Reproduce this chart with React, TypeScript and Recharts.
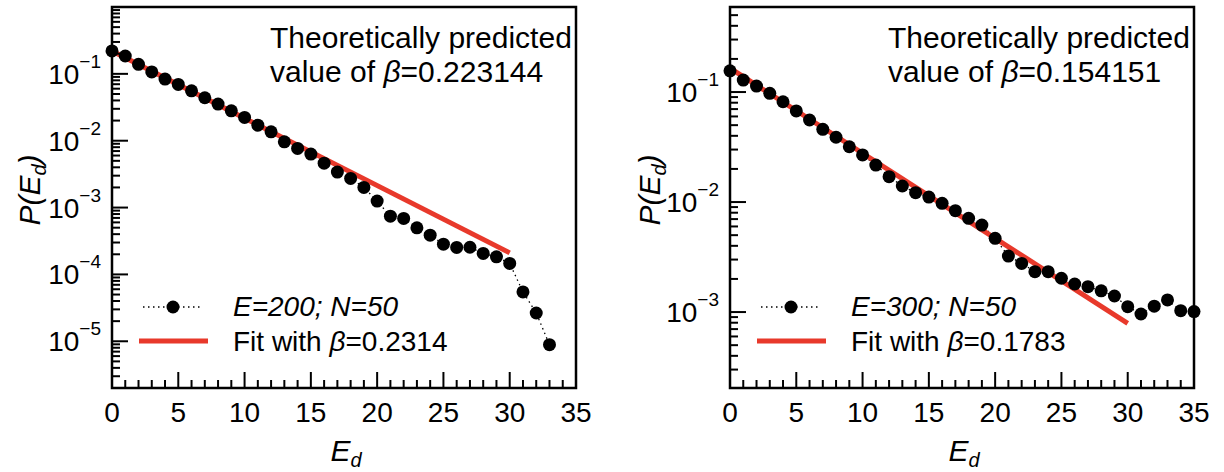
import React from 'react';
import { ComposedChart, Line, XAxis, YAxis, ReferenceArea } from 'recharts';

const FONT = '"Liberation Sans", Arial, Helvetica, sans-serif';
const FS = 30; // annotation / axis titles
const LFS = 28; // legend
const TFS = 28; // tick labels
const RED = '#e8392b';

// ---------- data ----------
const xMajorTicks = [0, 5, 10, 15, 20, 25, 30, 35];
const xAllTicks = [0, 1, 2, 3, 4, 5, 6, 7, 8, 9, 10, 11, 12, 13, 14, 15, 16, 17, 18, 19, 20, 21, 22, 23, 24, 25, 26, 27, 28, 29, 30, 31, 32, 33, 34, 35];

const leftE = [0, 1, 2, 3, 4, 5, 6, 7, 8, 9, 10, 11, 12, 13, 14, 15, 16, 17, 18, 19, 20, 21, 22, 23, 24, 25, 26, 27, 28, 29, 30, 31, 32, 33];
const leftP = [0.22, 0.185, 0.139, 0.107, 0.0836, 0.0696, 0.0558, 0.0439, 0.0353, 0.028, 0.0223, 0.0171, 0.0136, 0.00963, 0.00767, 0.0063, 0.00462, 0.00339, 0.00273, 0.002, 0.00125, 7.43e-4, 6.87e-4, 4.97e-4, 3.86e-4, 2.83e-4, 2.53e-4, 2.55e-4, 2.06e-4, 1.83e-4, 1.46e-4, 5.47e-5, 2.65e-5, 8.9e-6];
const leftFitE = [0, 30];
const leftFitP = [0.22, 2.1e-4];
const leftDomain = [2e-6, 1];
const leftMajorTicks = [1e-5, 1e-4, 1e-3, 1e-2, 1e-1];
const leftDecades = [1e-6, 1e-5, 1e-4, 1e-3, 1e-2, 1e-1];

const rightE = [0, 1, 2, 3, 4, 5, 6, 7, 8, 9, 10, 11, 12, 13, 14, 15, 16, 17, 18, 19, 20, 21, 22, 23, 24, 25, 26, 27, 28, 29, 30, 31, 32, 33, 34, 35];
const rightP = [0.156, 0.1285, 0.1134, 0.0973, 0.0816, 0.0673, 0.0557, 0.0458, 0.0388, 0.0318, 0.0268, 0.0217, 0.017, 0.014, 0.01216, 0.0111, 0.00974, 0.00834, 0.00711, 0.00618, 0.00468, 0.00323, 0.00277, 0.00233, 0.00233, 0.00203, 0.0018, 0.0017, 0.00156, 0.0014, 0.00112, 9.6e-4, 0.00113, 0.00129, 0.00103, 0.00101];
const rightFitE = [0, 30];
const rightFitP = [0.165, 7.9e-4];
const rightDomain = [2.04e-4, 0.593];
const rightMajorTicks = [1e-3, 1e-2, 1e-1];
const rightDecades = [1e-4, 1e-3, 1e-2, 1e-1];

const minorMult = [2, 3, 4, 5, 6, 7, 8, 9];

const leftSeriesLabel = 'E=200; N=50';
const leftFitBeta = '0.2314';
const leftTheoryBeta = '0.223144';
const rightSeriesLabel = 'E=300; N=50';
const rightFitBeta = '0.1783';
const rightTheoryBeta = '0.154151';

// ---------- helpers ----------
function buildTicks(decades: number[], domain: number[]) {
  const out: number[] = [];
  decades.forEach((d) => {
    out.push(d);
    minorMult.forEach((m) => out.push(d * m));
  });
  return out.filter((v) => v >= domain[0] * 0.999999 && v <= domain[1] * 1.000001);
}

const sameLog = (a: number, b: number) => Math.abs(Math.log10(a) - Math.log10(b)) < 1e-6;

const YTick = (props: any) => {
  const { x, y, payload, majors, decades } = props;
  const v = payload.value;
  const isDecade = decades.some((d: number) => sameLog(d, v));
  const labeled = majors.some((m: number) => sameLog(m, v));
  const len = isDecade ? 16 : 8;
  const exp = Math.round(Math.log10(v));
  return (
    <g>
      <line x1={x} x2={x + len} y1={y} y2={y} stroke="#000" strokeWidth={2} />
      {labeled ? (
        <text x={x - 11} y={y + 10} textAnchor="end" fontFamily={FONT} fontSize={TFS} fill="#000">
          10
          <tspan dy={-16} fontSize={19}>{'\u2212' + Math.abs(exp)}</tspan>
        </text>
      ) : null}
    </g>
  );
};

const XTick = (props: any) => {
  const { x, y, payload } = props;
  const v = payload.value;
  const major = xMajorTicks.includes(v);
  return (
    <g>
      <line x1={x} x2={x} y1={y} y2={y - (major ? 16 : 8)} stroke="#000" strokeWidth={2} />
      {major ? (
        <text x={x} y={y + 34} textAnchor="middle" fontFamily={FONT} fontSize={TFS} fill="#000">
          {v}
        </text>
      ) : null}
    </g>
  );
};

type PanelProps = {
  left: number;
  e: number[];
  p: number[];
  fitE: number[];
  fitP: number[];
  domain: number[];
  majors: number[];
  decades: number[];
  seriesLabel: string;
  fitBeta: string;
  theoryBeta: string;
  ylabelX: number;
};

function Panel(props: PanelProps) {
  const { left, e, p, fitE, fitP, domain, majors, decades, seriesLabel, fitBeta, theoryBeta, ylabelX } = props;
  const pts = e.map((v, i) => ({ e: v, p: p[i] }));
  const fit = fitE.map((v, i) => ({ e: v, p: fitP[i] }));
  const yTicks = buildTicks(decades, domain);
  const W = 600;
  const H = 472;
  return (
    <div style={{ position: 'absolute', left, top: 0, width: W, height: H }}>
      <ComposedChart width={W} height={H} margin={{ top: 7, right: 24, bottom: 24, left: 0 }}>
        <XAxis
          dataKey="e"
          type="number"
          domain={[0, 35]}
          ticks={xAllTicks}
          interval={0}
          tickSize={0}
          tickMargin={0}
          tickLine={false}
          axisLine={false}
          height={60}
          tick={(tp: any) => <XTick {...tp} />}
        />
        <YAxis
          dataKey="p"
          type="number"
          scale="log"
          domain={domain}
          ticks={yTicks}
          interval={0}
          tickSize={0}
          tickMargin={0}
          tickLine={false}
          axisLine={false}
          width={112}
          allowDataOverflow
          tick={(tp: any) => <YTick {...tp} majors={majors} decades={decades} />}
        />
        <ReferenceArea
          x1={0}
          x2={35}
          y1={domain[0]}
          y2={domain[1]}
          fill="none"
          fillOpacity={0}
          stroke="#000"
          strokeWidth={2.5}
          ifOverflow="visible"
        />
        <Line
          data={pts}
          dataKey="p"
          stroke="#000"
          strokeWidth={1.3}
          strokeDasharray="1.5 3.5"
          dot={{ r: 6.5, fill: '#000', stroke: '#000', strokeWidth: 0 }}
          isAnimationActive={false}
        />
        <Line data={fit} dataKey="p" stroke={RED} strokeWidth={5} dot={false} isAnimationActive={false} />
      </ComposedChart>
      <svg
        width={W}
        height={H}
        style={{ position: 'absolute', left: 0, top: 0, pointerEvents: 'none' }}
        fontFamily={FONT}
        fontSize={FS}
      >
        <text x={270} y={48} fill="#000">Theoretically predicted</text>
        <text x={270} y={82} fill="#000">
          value of <tspan fontStyle="italic">β</tspan>={theoryBeta}
        </text>
        <line x1={143} x2={203} y1={307} y2={307} stroke="#000" strokeWidth={1.3} strokeDasharray="1.5 3.5" />
        <circle cx={173} cy={307} r={6.5} fill="#000" />
        <text x={233} y={316} fontSize={LFS} fontStyle="italic" fill="#000">{seriesLabel}</text>
        <line x1={139} x2={208} y1={341} y2={341} stroke={RED} strokeWidth={5} />
        <text x={233} y={351} fontSize={LFS} fill="#000">
          Fit with <tspan fontStyle="italic">β</tspan>={fitBeta}
        </text>
        <text
          transform={`translate(${ylabelX},190) rotate(-90)`}
          textAnchor="middle"
          fontStyle="italic"
          fill="#000"
        >
          P(E<tspan dy={6} fontSize={20}>d</tspan>
          <tspan dy={-6}>)</tspan>
        </text>
        <text x={346} y={461} textAnchor="middle" fontStyle="italic" fill="#000">
          E<tspan dy={6} fontSize={20}>d</tspan>
        </text>
      </svg>
    </div>
  );
}

export default function App() {
  return (
    <div style={{ position: 'absolute', left: 0, top: 0, width: 1224, height: 472, background: '#fff' }}>
      <Panel
        left={0}
        e={leftE}
        p={leftP}
        fitE={leftFitE}
        fitP={leftFitP}
        domain={leftDomain}
        majors={leftMajorTicks}
        decades={leftDecades}
        seriesLabel={leftSeriesLabel}
        fitBeta={leftFitBeta}
        theoryBeta={leftTheoryBeta}
        ylabelX={40}
      />
      <Panel
        left={618}
        e={rightE}
        p={rightP}
        fitE={rightFitE}
        fitP={rightFitP}
        domain={rightDomain}
        majors={rightMajorTicks}
        decades={rightDecades}
        seriesLabel={rightSeriesLabel}
        fitBeta={rightFitBeta}
        theoryBeta={rightTheoryBeta}
        ylabelX={42}
      />
    </div>
  );
}
